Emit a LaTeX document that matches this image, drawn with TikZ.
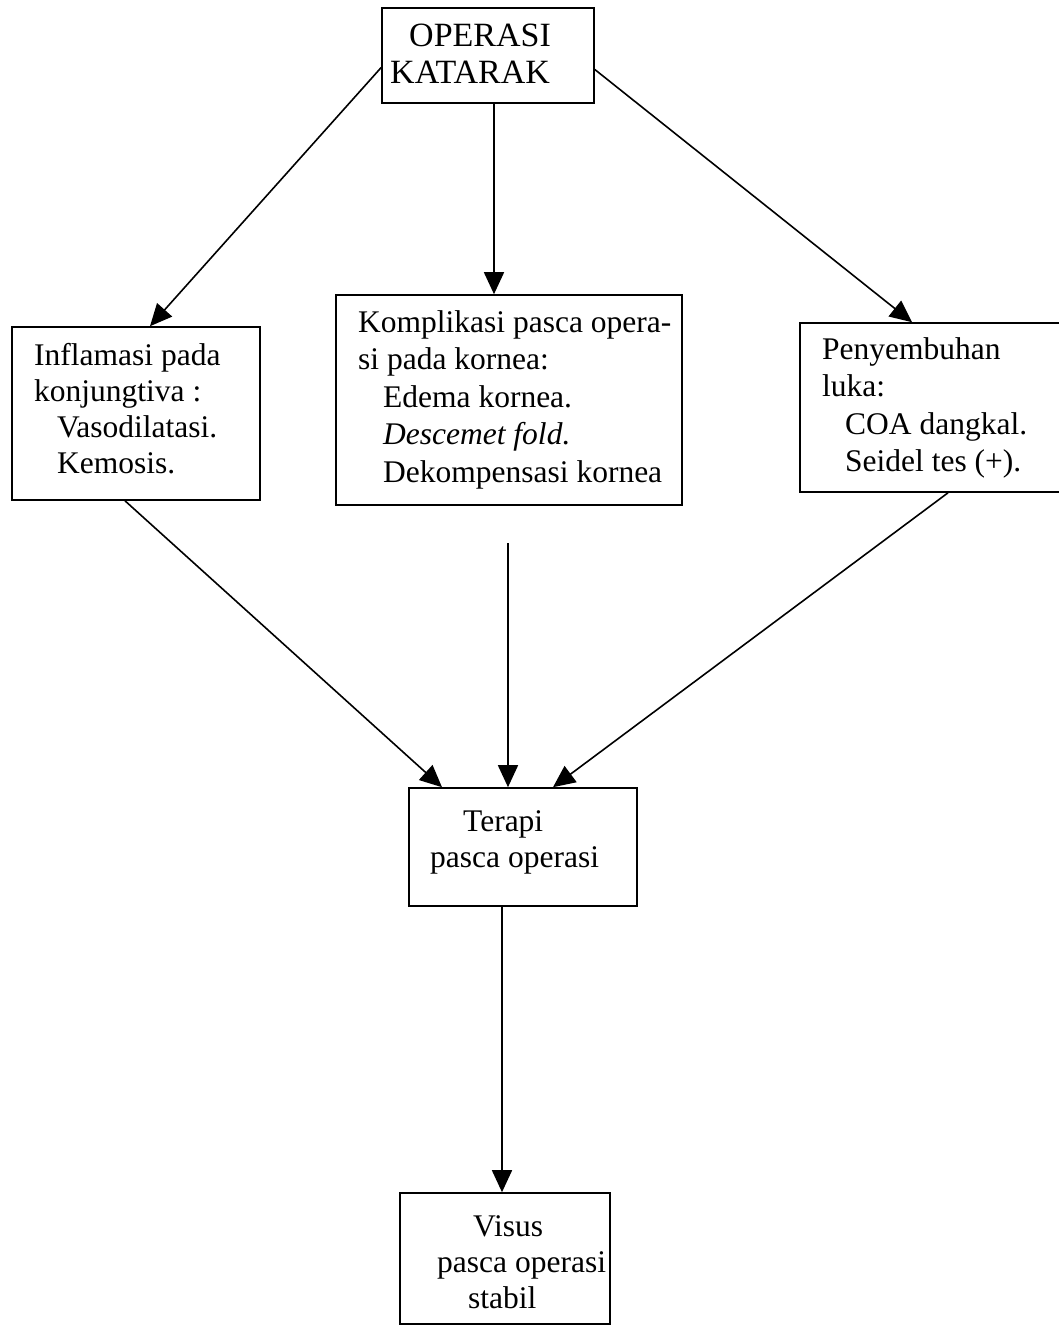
\documentclass[tikz,border=0pt]{standalone}
\usepackage{fontspec}
\setmainfont{Liberation Serif}
\usetikzlibrary{arrows.meta,calc,fit}
\begin{document}
\begin{tikzpicture}[x=1pt,y=-1pt,
  frame/.style={draw, line width=1.6pt, inner sep=0pt, rectangle},
  txt/.style={anchor=north west, inner sep=0pt, align=left, font=\fontsize{31.5}{36}\selectfont},
  conn/.style={draw, line width=1.6pt, -{Triangle[length=22pt,width=20pt]}}]
\useasboundingbox (0,0) rectangle (1059,1331);
% boxes
\node[frame, fit={(382,8) (594,103)}] (op) {};
\node[frame, fit={(12,327) (260,500)}] (inf) {};
\node[frame, fit={(336,295) (682,505)}] (kom) {};
\node[frame, fit={(800,323) (1070,492)}] (pen) {};
\node[frame, fit={(409,788) (637,906)}] (ter) {};
\node[frame, fit={(400,1193) (610,1324)}] (vis) {};
% texts
\node[txt, font=\fontsize{34}{37}\selectfont] (opt) at (390,24) {\hspace{19pt}OPERASI\\KATARAK};
\node[txt] (inft) at (34,343) {Inflamasi pada\\konjungtiva :\\\hspace{23pt}Vasodilatasi.\\\hspace{23pt}Kemosis.};
\node[txt, font=\fontsize{31.5}{37.5}\selectfont] (komt) at (358,310) {Komplikasi pasca opera-\\si pada kornea:\\\hspace{25pt}Edema kornea.\\\hspace{25pt}\textit{Descemet fold.}\\\hspace{25pt}Dekompensasi kornea};
\node[txt, font=\fontsize{31.5}{37.5}\selectfont] (pent) at (822,337) {Penyembuhan\\luka:\\\hspace{23pt}COA dangkal.\\\hspace{23pt}Seidel tes (+).};
\node[txt] (tert) at (430,810) {\hspace{33pt}Terapi\\pasca operasi};
\node[txt] (vist) at (437,1215) {\hspace{36pt}Visus\\pasca operasi\\\hspace{31pt}stabil};
% connectors
\coordinate (komgap) at (508,543);
\draw[conn] ([yshift=-12pt]op.west) -- ([xshift=14pt]inf.north);
\draw[conn] ([xshift=6pt]op.south) -- ([xshift=-15pt]kom.north);
\draw[conn] ([yshift=-14pt]op.east) -- ([xshift=-23pt]pen.north);
\draw[conn] ([xshift=-11pt]inf.south) -- ([xshift=-81pt]ter.north);
\draw[conn] (komgap) -- ([xshift=-15pt]ter.north);
\draw[conn] ([xshift=13pt]pen.south) -- ([xshift=30pt]ter.north);
\draw[conn] ([xshift=-21pt]ter.south) -- ([xshift=-3pt]vis.north);
\end{tikzpicture}
\end{document}
